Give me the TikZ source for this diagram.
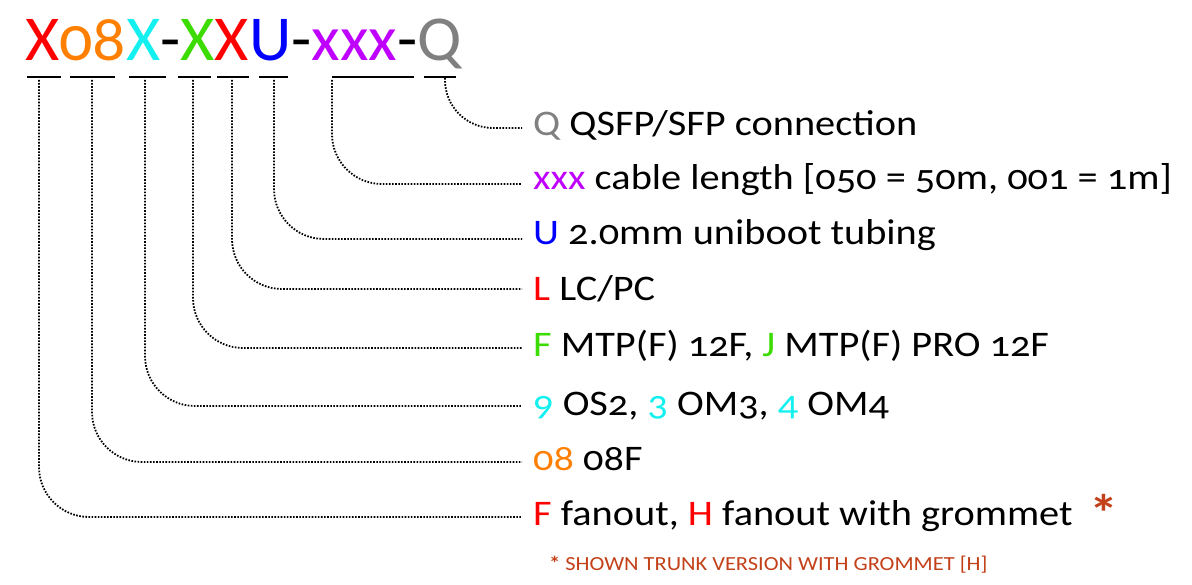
\documentclass[tikz,border=0pt]{standalone}
\usepackage{fontspec}
\setmainfont{Carlito}[Numbers=OldStyle,FakeStretch=1.12]
\newfontfamily\titlefont{Carlito}[Numbers=OldStyle,FakeStretch=1.03]
\definecolor{cRed}{RGB}{255,0,0}
\definecolor{cOrange}{RGB}{255,128,0}
\definecolor{cCyan}{RGB}{20,240,240}
\definecolor{cGreen}{RGB}{60,220,0}
\definecolor{cBlue}{RGB}{0,0,255}
\definecolor{cPurple}{RGB}{192,0,255}
\definecolor{cGray}{RGB}{128,128,128}
\definecolor{cBrick}{RGB}{195,65,25}
\tikzset{
  conn/.style={draw=black, line width=1.8pt, dash pattern=on 1.6pt off 1.5pt, rounded corners=50pt},
  uline/.style={draw=black, line width=2pt},
  label/.style={anchor=base west, inner sep=0pt, font=\fontsize{36}{40}\selectfont},
  title/.style={anchor=base west, inner sep=0pt, font=\titlefont\fontsize{64}{70}\selectfont},
  foot/.style={anchor=base west, inner sep=0pt, text=cBrick, font=\fontsize{20}{24}\selectfont}
}
\begin{document}
\begin{tikzpicture}[x=1pt,y=-1pt]
\useasboundingbox[fill=white] (0,0) rectangle (1192,585);
% title
\node[title] (code) at (25,61) {{\color{cRed}X}{\color{cOrange}08}{\color{cCyan}X}-{\color{cGreen}X}{\color{cRed}X}{\color{cBlue}U}-{\color{cPurple}xxx}-{\color{cGray}Q}};
% underlines
\draw[uline] (27,77) -- (61,77);
\draw[uline] (70,77) -- (115,77);
\draw[uline] (129,77) -- (166,77);
\draw[uline] (178,77) -- (211,77);
\draw[uline] (217,77) -- (249,77);
\draw[uline] (259,77) -- (288,77);
\draw[uline] (332,77) -- (414,77);
\draw[uline] (424,77) -- (456,77);
% labels
\node[label] (lQ) at (533,136) {{\color{cGray}Q} QSFP/SFP connection};
\node[label] (lX) at (533,190) {{\color{cPurple}xxx} cable length [050 = 50m, 001 = 1m]};
\node[label] (lU) at (533,245) {{\color{cBlue}U} 2.0mm uniboot tubing};
\node[label] (lL) at (533,301) {{\color{cRed}L} LC/PC};
\node[label] (lM) at (533,357) {{\color{cGreen}F} MTP(F) 12F, {\color{cGreen}J} MTP(F) PRO 12F};
\node[label] (lO) at (533,415) {{\color{cCyan}9} OS2, {\color{cCyan}3} OM3, {\color{cCyan}4} OM4};
\node[label] (l8) at (533,470) {{\color{cOrange}08} 08F};
\node[label] (lF) at (533,525) {{\color{cRed}F} fanout, {\color{cRed}H} fanout with grommet};
\node[anchor=base, inner sep=0pt, text=cBrick, font=\fontsize{52}{52}\selectfont\bfseries] (ast) at (1104,531) {*};
\node[foot] (note) at (549,570) {{\bfseries *} SHOWN TRUNK VERSION WITH GROMMET [H]};
% connector end points
\coordinate (sQ) at (445,78);  \coordinate (eQ) at (522,128);
\coordinate (sX) at (332,80);  \coordinate (eX) at (522,184);
\coordinate (sU) at (274,80);  \coordinate (eU) at (522,239);
\coordinate (sL) at (232,80);  \coordinate (eL) at (522,289);
\coordinate (sM) at (193,80);  \coordinate (eM) at (522,348);
\coordinate (sO) at (145,80);  \coordinate (eO) at (522,406);
\coordinate (s8) at (92,80);   \coordinate (e8) at (522,462);
\coordinate (sF) at (39,80);   \coordinate (eF) at (522,517);
\draw[conn, rounded corners=48pt] (sQ) |- (eQ);
\draw[conn] (sX) |- (eX);
\draw[conn] (sU) |- (eU);
\draw[conn] (sL) |- (eL);
\draw[conn] (sM) |- (eM);
\draw[conn] (sO) |- (eO);
\draw[conn] (s8) |- (e8);
\draw[conn] (sF) |- (eF);
\end{tikzpicture}
\end{document}
